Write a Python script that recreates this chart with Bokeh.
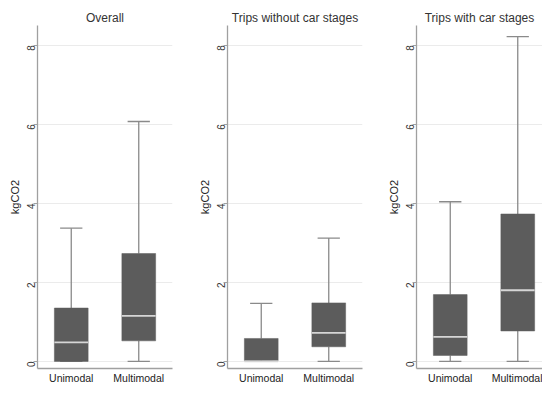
import math
from bokeh.plotting import figure
from bokeh.layouts import row
from bokeh.models import FixedTicker, Range1d, ColumnDataSource
from bokeh.transform import dodge
from bokeh.embed import file_html
from bokeh.resources import INLINE

panel_titles = ["Overall", "Trips without car stages", "Trips with car stages"]
categories = ["Unimodal", "Multimodal"]
y_label = "kgCO2"
y_ticks = [0, 2, 4, 6, 8]

whisker_low = [[0.0, 0.0], [0.0, 0.0], [0.0, 0.0]]
q1 = [[0.0, 0.52], [0.02, 0.37], [0.15, 0.77]]
median = [[0.48, 1.15], [0.0, 0.72], [0.62, 1.80]]
q3 = [[1.35, 2.73], [0.58, 1.48], [1.69, 3.73]]
whisker_high = [[3.37, 6.07], [1.47, 3.12], [4.04, 8.22]]

FONT = "Liberation Sans"
BOX = "#5c5c5c"
WHISK = "#8a8a8a"
MED = "#d6d6d6"
AXIS = "#a0a0a0"

widths = [189, 190, 163]
left_borders = [37, 38, 37]
right_borders = [17, 17, 0]
PX_PER_UNIT = 67.5

figs = []
for i, title in enumerate(panel_titles):
    w = widths[i]
    frame_w = w - left_borders[i] - right_borders[i]
    x_end = frame_w / PX_PER_UNIT
    p = figure(width=w, height=386, output_backend="svg", toolbar_location=None,
               x_range=Range1d(0, x_end), y_range=Range1d(-0.18, 8.5),
               min_border_left=left_borders[i], min_border_right=right_borders[i],
               min_border_top=25, min_border_bottom=0)
    p.outline_line_color = None
    p.title.text = title
    p.title.align = "center"
    p.title.text_font = FONT
    p.title.text_font_size = "12px"
    p.title.text_font_style = "normal"
    p.title.text_color = "#333333"
    p.title.standoff = 2

    xs = [k + 0.5 for k in range(len(categories))]
    src = ColumnDataSource(dict(
        x=xs, lo=whisker_low[i], q1=q1[i], med=median[i], q3=q3[i], hi=whisker_high[i]))
    bw = 0.5
    cw = 0.33
    p.segment(x0="x", y0="q3", x1="x", y1="hi", source=src, line_color=WHISK, line_width=1.3)
    p.segment(x0="x", y0="lo", x1="x", y1="q1", source=src, line_color=WHISK, line_width=1.3)
    p.segment(x0=dodge("x", -cw / 2), y0="hi", x1=dodge("x", cw / 2), y1="hi", source=src,
              line_color=WHISK, line_width=1.3)
    p.segment(x0=dodge("x", -cw / 2), y0="lo", x1=dodge("x", cw / 2), y1="lo", source=src,
              line_color=WHISK, line_width=1.3)
    p.vbar(x="x", width=bw, bottom="q1", top="q3", source=src, fill_color=BOX, line_color=BOX,
           line_width=0.5)
    p.segment(x0=dodge("x", -bw / 2), y0="med", x1=dodge("x", bw / 2), y1="med", source=src,
              line_color=MED, line_width=1.8)

    p.xaxis.ticker = FixedTicker(ticks=xs)
    p.xaxis.major_label_overrides = {x: c for x, c in zip(xs, categories)}
    p.xaxis.major_tick_out = 0
    p.xaxis.major_tick_in = 0
    p.xaxis.minor_tick_out = 0
    p.xaxis.minor_tick_in = 0
    p.xaxis.major_label_standoff = 3
    p.xaxis.major_label_text_font = FONT
    p.xaxis.major_label_text_font_size = "10.5px"
    p.xaxis.major_label_text_color = "#222222"
    p.xaxis.axis_line_color = AXIS
    p.xaxis.axis_line_width = 1.3

    p.yaxis.ticker = FixedTicker(ticks=y_ticks)
    p.yaxis.axis_label = y_label
    p.yaxis.axis_label_text_font = FONT
    p.yaxis.axis_label_text_font_size = "11px"
    p.yaxis.axis_label_text_font_style = "normal"
    p.yaxis.axis_label_text_color = "#222222"
    p.yaxis.axis_label_standoff = 0
    p.yaxis.major_label_orientation = math.pi / 2
    p.yaxis.major_label_text_font = FONT
    p.yaxis.major_label_text_font_size = "10px"
    p.yaxis.major_label_text_color = "#333333"
    p.yaxis.major_label_standoff = 2
    p.yaxis.major_tick_out = 4
    p.yaxis.major_tick_in = 0
    p.yaxis.minor_tick_out = 0
    p.yaxis.minor_tick_in = 0
    p.yaxis.major_tick_line_color = AXIS
    p.yaxis.axis_line_color = AXIS
    p.yaxis.axis_line_width = 1.3

    p.xgrid.visible = False
    p.ygrid.ticker = FixedTicker(ticks=y_ticks)
    p.ygrid.grid_line_color = "#ebebeb"
    p.ygrid.grid_line_width = 1
    figs.append(p)

layout = row(*figs, spacing=0)
open("out.html", "w").write(file_html(layout, INLINE))
